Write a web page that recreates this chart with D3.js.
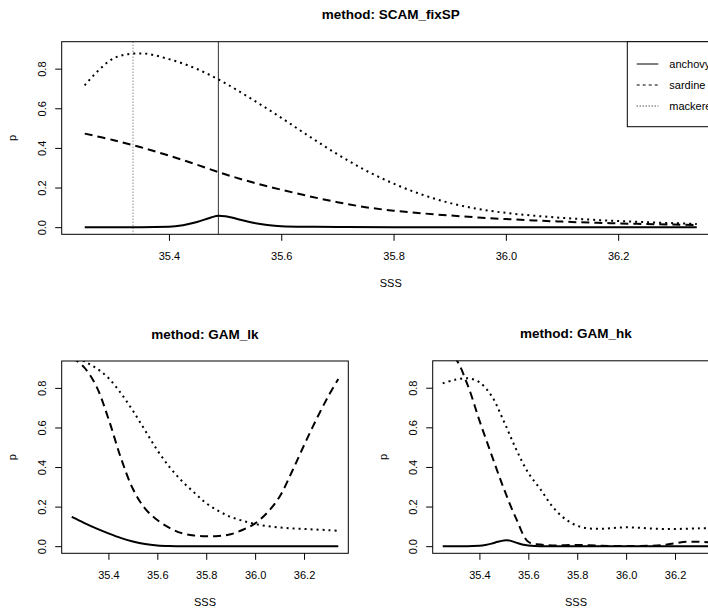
<!DOCTYPE html>
<html><head><meta charset="utf-8">
<script src="https://cdn.jsdelivr.net/npm/d3@7"></script>
<style>
body{margin:0;background:#fff}
text{font-family:"Liberation Sans",Arial,Helvetica,sans-serif;fill:#000}
</style>
</head><body>
<svg id="c" width="708" height="610"></svg>
<script>
// ---- data ----
const sss = [35.25,35.30,35.35,35.40,35.45,35.50,35.55,35.60,35.65,35.70,35.75,35.80,35.85,35.90,35.95,36.00,36.05,36.10,36.15,36.20,36.25,36.30,36.34];
const xTicks = [35.4,35.6,35.8,36.0,36.2];
const yTicks = [0.0,0.2,0.4,0.6,0.8];
const xTickLabels = ["35.4","35.6","35.8","36.0","36.2"];
const yTickLabels = ["0.0","0.2","0.4","0.6","0.8"];
const species = ["anchovy","sardine","mackerel"];

// SCAM_fixSP
const anchovyScamX = [35.25,35.35,35.40,35.425,35.45,35.475,35.488,35.50,35.525,35.55,35.575,35.60,35.65,35.70,35.80,36.00,36.34];
const anchovyScam  = [0,0,0.002,0.010,0.026,0.049,0.057,0.055,0.039,0.022,0.011,0.005,0.002,0.001,0,0,0];
const sardineScam  = [0.472,0.440,0.403,0.361,0.315,0.267,0.225,0.189,0.156,0.126,0.101,0.083,0.070,0.059,0.049,0.041,0.034,0.028,0.023,0.019,0.016,0.013,0.011];
const mackerelScam = [0.716,0.850,0.877,0.848,0.798,0.727,0.642,0.552,0.458,0.368,0.287,0.220,0.165,0.122,0.092,0.072,0.058,0.047,0.038,0.031,0.025,0.020,0.016];
const vlineSolid = 35.488;
const vlineDotted = 35.336;

// GAM_lk
const anchovyLk  = [0.148,0.118,0.090,0.065,0.042,0.024,0.011,0.004,0.001,0,0,0,0,0,0,0,0,0,0,0,0,0,0];
const sardineLk  = [0.955,0.905,0.810,0.645,0.450,0.290,0.190,0.132,0.092,0.066,0.054,0.050,0.051,0.060,0.083,0.115,0.170,0.250,0.375,0.510,0.640,0.760,0.845];
const mackerelLk = [0.960,0.935,0.900,0.850,0.775,0.685,0.585,0.485,0.400,0.330,0.272,0.217,0.178,0.148,0.128,0.112,0.101,0.095,0.090,0.087,0.084,0.081,0.078];

// GAM_hk
const anchovyHkX = [35.25,35.35,35.40,35.425,35.45,35.475,35.50,35.51,35.525,35.55,35.575,35.60,35.65,36.34];
const anchovyHk  = [0,0,0.002,0.006,0.013,0.022,0.029,0.030,0.028,0.018,0.008,0.003,0,0];
const sardineHk  = [0.990,0.950,0.820,0.635,0.460,0.290,0.140,0.022,0.008,0.004,0.005,0.006,0.005,0.002,0.001,0.001,0.001,0.002,0.006,0.015,0.022,0.022,0.020];
const mackerelHk = [0.822,0.840,0.848,0.828,0.758,0.630,0.490,0.370,0.287,0.198,0.138,0.103,0.089,0.088,0.092,0.095,0.093,0.089,0.087,0.087,0.088,0.090,0.091];

// ---- layout ----
const svg = d3.select("#c");
const xDomain = [35.209, 36.381];
const yDomain = [-0.036, 0.936];
const styles = {
  anchovy:  {dash:null,  w:2, curve:d3.curveMonotoneX},
  sardine:  {dash:"8,5", w:2, curve:d3.curveCatmullRom.alpha(0.5)},
  mackerel: {dash:"2,4", w:2, curve:d3.curveCatmullRom.alpha(0.5)}
};

function panel(id, box, title, series, extras){
  const x = d3.scaleLinear().domain(xDomain).range([box.l, box.r]);
  const y = d3.scaleLinear().domain(yDomain).range([box.b, box.t]);
  svg.append("clipPath").attr("id", id).append("rect")
    .attr("x", box.l).attr("y", box.t).attr("width", box.r-box.l).attr("height", box.b-box.t);
  const g = svg.append("g").attr("clip-path", `url(#${id})`);
  if (extras) extras(g, x, y);
  series.forEach(s=>{
    const st = styles[s.name];
    const line = d3.line().x(d=>x(d[0])).y(d=>y(d[1])).curve(st.curve);
    g.append("path").datum(s.xs.map((v,i)=>[v, s.ys[i]]))
      .attr("d", line).attr("fill","none").attr("stroke","#000")
      .attr("stroke-width", st.w).attr("stroke-dasharray", st.dash);
  });
  // box
  svg.append("rect").attr("x", box.l).attr("y", box.t)
    .attr("width", box.r-box.l).attr("height", box.b-box.t)
    .attr("fill","none").attr("stroke","#000").attr("stroke-width",1);
  // x axis
  const xa = svg.append("g").attr("transform",`translate(0,${box.b})`)
    .call(d3.axisBottom(x).tickValues(xTicks).tickFormat((d,i)=>xTickLabels[i]).tickSize(6.5).tickPadding(0));
  xa.select(".domain").remove();
  xa.selectAll("text").attr("dy", null).attr("y", 26).style("font-size","11px")
    .style("font-family",'"Liberation Sans",Arial,sans-serif');
  // y axis
  const ya = svg.append("g").attr("transform",`translate(${box.l},0)`)
    .call(d3.axisLeft(y).tickValues(yTicks).tickFormat((d,i)=>yTickLabels[i]).tickSize(6.5));
  ya.select(".domain").remove();
  ya.selectAll(".tick text").attr("x", null).attr("dy", null)
    .attr("text-anchor","middle").attr("transform","translate(-16,0) rotate(-90)")
    .style("font-size","11px").style("font-family",'"Liberation Sans",Arial,sans-serif');
  // titles
  const cx = (box.l+box.r)/2;
  svg.append("text").attr("x", cx).attr("y", box.t-22.5).attr("text-anchor","middle")
    .style("font-size","13.5px").style("font-weight","bold").text(title);
  svg.append("text").attr("x", cx).attr("y", box.b+53).attr("text-anchor","middle")
    .style("font-size","11px").text("SSS");
  const cy = (box.t+box.b)/2;
  svg.append("text").attr("transform",`translate(${box.l-45.3},${cy}) rotate(-90)`)
    .attr("text-anchor","middle").style("font-size","11px").text("p");
  return {x, y};
}

// Top panel
const topBox = {l:61.7, r:719.8, t:41.7, b:234.3};
panel("clipTop", topBox, "method: SCAM_fixSP", [
  {name:"anchovy", xs:anchovyScamX, ys:anchovyScam},
  {name:"sardine", xs:sss, ys:sardineScam},
  {name:"mackerel", xs:sss, ys:mackerelScam}
], (g,x,y)=>{
  g.append("line").attr("x1",x(vlineSolid)).attr("x2",x(vlineSolid))
    .attr("y1",topBox.t).attr("y2",topBox.b).attr("stroke","#333").attr("stroke-width",1);
  g.append("line").attr("x1",x(vlineDotted)).attr("x2",x(vlineDotted))
    .attr("y1",topBox.t).attr("y2",topBox.b).attr("stroke","#555").attr("stroke-width",1)
    .attr("stroke-dasharray","1,2");
});

// Legend (extends past the right edge, as in the original figure)
const lg = svg.append("g");
lg.append("rect").attr("x",627.3).attr("y",41.7).attr("width",120).attr("height",85)
  .attr("fill","#fff").attr("stroke","#000").attr("stroke-width",1);
const legendDash = {anchovy:null, sardine:"3,3", mackerel:"1,2"};
species.forEach((s,i)=>{
  const yy = 64 + i*21;
  lg.append("line").attr("x1",636.7).attr("x2",658.3).attr("y1",yy).attr("y2",yy)
    .attr("stroke","#000").attr("stroke-width",1).attr("stroke-dasharray",legendDash[s]);
  lg.append("text").attr("x",669.3).attr("y",yy+4).style("font-size","11px").text(s);
});

// Bottom-left
panel("clipLk", {l:61.7, r:348.3, t:361, b:553.3}, "method: GAM_lk", [
  {name:"anchovy", xs:sss, ys:anchovyLk},
  {name:"sardine", xs:sss, ys:sardineLk},
  {name:"mackerel", xs:sss, ys:mackerelLk}
]);

// Bottom-right
panel("clipHk", {l:432.7, r:719.3, t:360.8, b:553.3}, "method: GAM_hk", [
  {name:"anchovy", xs:anchovyHkX, ys:anchovyHk},
  {name:"sardine", xs:sss, ys:sardineHk},
  {name:"mackerel", xs:sss, ys:mackerelHk}
]);
</script>
</body></html>
